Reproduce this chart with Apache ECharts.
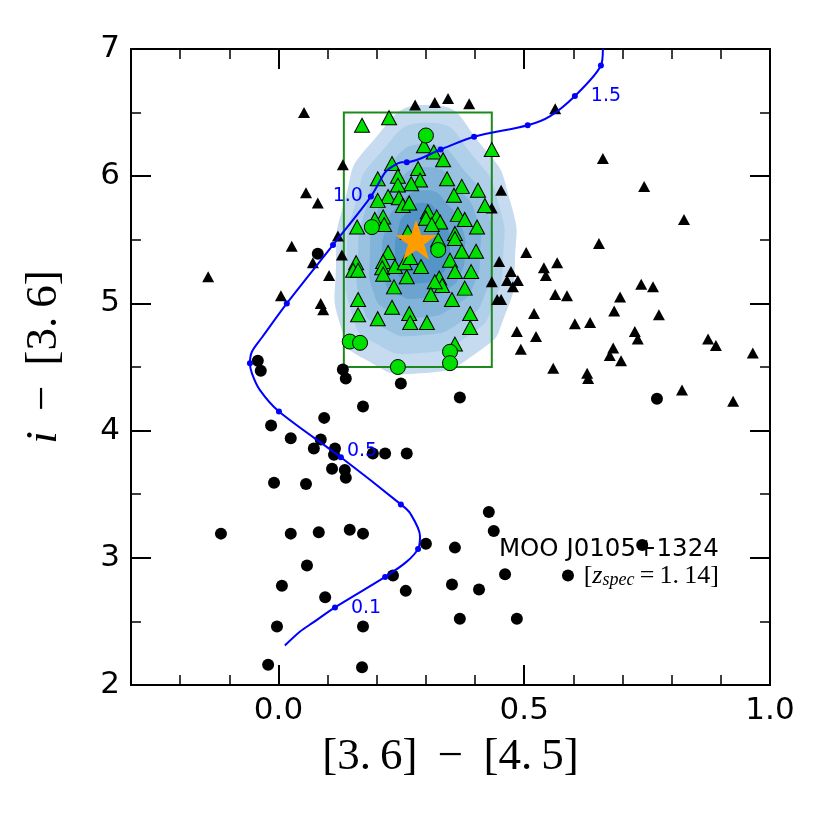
<!DOCTYPE html>
<html><head><meta charset="utf-8">
<script src="https://cdn.jsdelivr.net/npm/echarts@6/dist/echarts.min.js"></script>
<style>html,body{margin:0;padding:0;background:#fff}#c{width:830px;height:830px}</style>
</head><body><div id="c"></div>
<script>
// ---------- data ----------
const xRange = [-0.3, 1.0];
const yRange = [2, 7];
const xMajorTicks = [0.0, 0.5, 1.0];
const xMinorTicks = [-0.2, -0.1, 0.1, 0.2, 0.3, 0.4, 0.6, 0.7, 0.8, 0.9];
const yMajorTicks = [2, 3, 4, 5, 6, 7];
const yMinorTicks = [2.5, 3.5, 4.5, 5.5, 6.5];

const blackTriangles = [
[-0.143,5.21],[0.052,6.50],[0.056,5.87],[0.080,5.79],[0.027,5.45],[0.131,6.09],[0.121,5.53],[0.129,5.38],[0.070,5.32],[0.103,5.22],[0.005,5.06],[0.086,5.00],[0.091,4.95],
[0.278,6.56],[0.318,6.58],[0.345,6.61],[0.388,6.57],
[0.453,5.89],[0.434,5.75],[0.563,6.53],
[0.660,6.14],[0.744,5.92],[0.825,5.66],[0.652,5.47],[0.504,5.40],[0.449,5.33],[0.567,5.32],[0.540,5.28],[0.544,5.22],[0.473,5.25],[0.465,5.18],[0.487,5.18],[0.477,5.13],[0.434,5.17],[0.563,5.07],[0.587,5.06],[0.738,5.15],[0.762,5.13],[0.695,5.05],[0.683,4.94],[0.774,4.91],[0.520,4.92],[0.445,5.03],[0.453,5.03],[0.603,4.84],[0.634,4.85],[0.725,4.78],[0.731,4.72],[0.485,4.78],[0.524,4.74],[0.493,4.64],[0.874,4.72],[0.890,4.67],[0.965,4.61],[0.681,4.65],[0.674,4.59],[0.697,4.55],[0.559,4.49],[0.628,4.45],[0.630,4.41],[0.821,4.32],[0.925,4.23]
];
const blackCircles = [
[0.080,5.39],[-0.042,4.55],[-0.036,4.47],[-0.015,4.04],[0.025,3.94],[0.093,4.10],[0.086,3.93],[0.072,3.86],[0.115,3.86],[0.113,3.81],[0.109,3.70],[0.135,3.69],[0.137,3.63],[-0.009,3.59],[0.056,3.58],[0.131,4.48],[0.137,4.41],[0.249,4.37],[0.369,4.26],[0.172,4.19],[0.192,3.82],[0.217,3.82],[0.261,3.82],[0.145,3.22],[0.172,3.19],[0.300,3.11],[0.359,3.08],[0.428,3.36],[0.438,3.21],[0.461,2.87],[0.589,2.86],[0.233,2.86],[0.259,2.74],[0.353,2.79],[0.408,2.75],[0.369,2.52],[0.485,2.52],[0.172,2.46],[0.170,2.14],[-0.117,3.19],[0.025,3.19],[0.082,3.20],[0.058,2.94],[0.007,2.78],[0.095,2.69],[-0.003,2.46],[-0.021,2.16],[0.740,3.10],[0.770,4.25]
];
const greenTriangles = [
[0.170,6.40],[0.225,6.46],[0.296,6.24],[0.316,6.19],[0.335,6.13],[0.434,6.21],[0.231,6.10],[0.202,5.98],[0.243,6.00],[0.284,6.06],[0.288,5.97],[0.270,5.94],[0.243,5.93],[0.343,5.98],[0.373,5.92],[0.357,5.85],[0.406,5.89],[0.420,5.77],[0.223,5.84],[0.202,5.81],[0.245,5.83],[0.253,5.77],[0.266,5.79],[0.213,5.68],[0.196,5.66],[0.215,5.62],[0.160,5.60],[0.304,5.72],[0.300,5.67],[0.322,5.68],[0.329,5.64],[0.312,5.62],[0.365,5.70],[0.379,5.66],[0.404,5.60],[0.359,5.55],[0.263,5.56],[0.325,5.50],[0.359,5.51],[0.373,5.41],[0.402,5.41],[0.349,5.34],[0.359,5.25],[0.392,5.25],[0.223,5.40],[0.213,5.33],[0.211,5.28],[0.213,5.23],[0.237,5.29],[0.257,5.32],[0.268,5.36],[0.261,5.21],[0.290,5.29],[0.158,5.32],[0.152,5.26],[0.162,5.26],[0.235,5.13],[0.327,5.20],[0.333,5.14],[0.318,5.17],[0.310,5.07],[0.379,5.12],[0.353,5.03],[0.162,5.03],[0.162,4.91],[0.231,4.97],[0.202,4.88],[0.266,4.92],[0.268,4.85],[0.302,4.85],[0.390,4.92],[0.390,4.81],[0.359,4.68]
];
const greenCircles = [[0.300,6.32],[0.190,5.60],[0.325,5.42],[0.145,4.70],[0.166,4.69],[0.243,4.50],[0.349,4.62],[0.349,4.53]];

const selectionBoxX = [0.133, 0.434];
const selectionBoxY = [4.5, 6.5];
const clusterCentre = [0.28, 5.5];

// model colour track (smooth line) and its redshift dots
const trackCurve = [[0.013,2.31],[0.044,2.42],[0.070,2.49],[0.115,2.61],[0.217,2.85],[0.261,2.97],[0.284,3.07],[0.288,3.17],[0.268,3.35],[0.249,3.42],[0.127,3.79],[0.001,4.15],[-0.038,4.32],[-0.054,4.45],[-0.058,4.53],[-0.054,4.62],[-0.034,4.73],[0.017,5.00],[0.111,5.46],[0.188,5.84],[0.217,6.03],[0.233,6.08],[0.251,6.11],[0.261,6.11],[0.330,6.21],[0.398,6.31],[0.507,6.40],[0.552,6.47],[0.603,6.63],[0.656,6.87],[0.660,7.0]];
const trackZ = [0.1,0.2,0.3,0.4,0.5,0.6,0.7,0.8,0.9,1.0,1.1,1.2,1.3,1.4,1.5,1.6];
const trackDotX = [0.115,0.217,0.284,0.249,0.127,0.001,-0.058,0.017,0.111,0.188,0.261,0.330,0.398,0.507,0.603,0.656];
const trackDotY = [2.61,2.85,3.07,3.42,3.79,4.15,4.53,5.00,5.46,5.84,6.11,6.21,6.31,6.40,6.63,6.87];
const trackLabelZ = [0.1, 0.5, 1.0, 1.5];

// density contour levels (outer -> inner), vertices in data units
const densityL1 = [[0.308,6.56],[0.416,6.23],[0.471,5.81],[0.481,5.33],[0.461,4.91],[0.410,4.63],[0.288,4.45],[0.176,4.56],[0.129,4.79],[0.117,5.30],[0.135,5.81],[0.186,6.25]];
const densityL2 = [[0.306,6.42],[0.400,6.14],[0.448,5.78],[0.457,5.36],[0.438,5.01],[0.395,4.77],[0.288,4.61],[0.191,4.70],[0.151,4.90],[0.139,5.35],[0.156,5.78],[0.200,6.15]];
const densityL3 = [[0.304,6.25],[0.386,6.01],[0.426,5.72],[0.434,5.37],[0.420,5.07],[0.381,4.88],[0.290,4.75],[0.207,4.82],[0.170,4.99],[0.162,5.36],[0.176,5.72],[0.213,6.03]];
const densityL4 = [[0.304,6.07],[0.369,5.89],[0.404,5.66],[0.410,5.38],[0.398,5.15],[0.366,5.00],[0.291,4.89],[0.223,4.95],[0.194,5.08],[0.186,5.37],[0.197,5.66],[0.229,5.90]];
const densityL5 = [[0.299,5.89],[0.349,5.76],[0.374,5.59],[0.379,5.39],[0.370,5.23],[0.346,5.12],[0.290,5.04],[0.238,5.08],[0.216,5.18],[0.211,5.38],[0.219,5.59],[0.243,5.77]];
const densityL6 = [[0.296,5.79],[0.329,5.69],[0.346,5.57],[0.349,5.42],[0.343,5.30],[0.327,5.22],[0.290,5.16],[0.255,5.19],[0.241,5.26],[0.237,5.41],[0.243,5.57],[0.258,5.70]];
const densityLevels = [densityL1, densityL2, densityL3, densityL4, densityL5, densityL6];

const annotationAnchor = [0.896, 2.96];

// ---------- styles ----------
const densityColors = ['#c6dbef','#b0cfe8','#99c2e1','#82b3d8','#6aa4cf','#5395c6'];
const labelPlacement = {
  0.1: {position:'right', offset:[8,1]},
  0.5: {position:'right', offset:[-2,-6]},
  1.0: {position:'left', offset:[0,0]},
  1.5: {position:'right', offset:[8,0]}
};
const mathFont = 'Liberation Serif';

const chart = echarts.init(document.getElementById('c'), null, {renderer:'canvas'});
const gridRect = {left:131, right:60, top:49, bottom:145};

function xAx(grid, pos, major) {
  const a = {
    type:'value', gridIndex:grid, position:pos, min:xRange[0], max:xRange[1],
    splitLine:{show:false},
    axisLine:{show:true, onZero:false, lineStyle:{color:'#000', width:2}},
    axisTick:{show:true, inside:true, length: major?20:10, customValues: major?xMajorTicks:xMinorTicks, lineStyle:{color:'#000', width: major?2:1.5}},
    axisLabel:{show:false}
  };
  if (major && pos==='bottom') {
    a.axisLabel = {show:true, customValues:xMajorTicks, formatter:v=>Number(v).toFixed(1), fontSize:31, fontFamily:'DejaVu Sans', color:'#000', margin:10};
    a.name = '[3.\u20096] \u2009\u2212\u2009 [4.\u20095]';
    a.nameLocation = 'middle';
    a.nameGap = 50;
    a.nameTextStyle = {fontSize:45, fontFamily:mathFont, color:'#000'};
  }
  return a;
}
function yAx(grid, pos, major) {
  const a = {
    type:'value', gridIndex:grid, position:pos, min:yRange[0], max:yRange[1],
    splitLine:{show:false},
    axisLine:{show:true, onZero:false, lineStyle:{color:'#000', width:2}},
    axisTick:{show:true, inside:true, length: major?20:10, customValues: major?yMajorTicks:yMinorTicks, lineStyle:{color:'#000', width: major?2:1.5}},
    axisLabel:{show:false}
  };
  if (major && pos==='left') {
    a.axisLabel = {show:true, customValues:yMajorTicks, formatter:v=>String(Math.round(v)), fontSize:31, fontFamily:'DejaVu Sans', color:'#000', margin:11};
    a.name = '{i|i} \u2009\u2212\u2009 [3.\u20096]';
    a.nameLocation = 'middle';
    a.nameGap = 64;
    a.nameRotate = 90;
    a.nameTextStyle = {fontSize:45, fontFamily:mathFont, color:'#000', padding:[0,0,0,20], rich:{i:{fontSize:45, fontFamily:mathFont, fontStyle:'italic', color:'#000'}}};
  }
  return a;
}

const solid = {opacity:1};
const option = {
  backgroundColor:'#fff',
  animation:false,
  grid:[Object.assign({}, gridRect), Object.assign({}, gridRect)],
  xAxis:[xAx(0,'bottom',false), xAx(0,'top',false), xAx(1,'bottom',true), xAx(1,'top',true)],
  yAxis:[yAx(0,'left',false), yAx(0,'right',false), yAx(1,'left',true), yAx(1,'right',true)],
  series:[
    { // density contours
      type:'custom', xAxisIndex:0, yAxisIndex:0, z:1, silent:true,
      data: densityLevels.map((lv,i)=>[clusterCentre[0], clusterCentre[1], i]),
      renderItem:function(params, api){
        const idx = params.dataIndex;
        const pts = densityLevels[idx].map(p=>api.coord(p));
        return {type:'polygon', shape:{points:pts, smooth:0.6}, style:{fill:densityColors[idx], stroke:null}};
      }
    },
    { // selection box
      type:'custom', xAxisIndex:0, yAxisIndex:0, z:2, silent:true,
      data:[[selectionBoxX[0], selectionBoxY[0], selectionBoxX[1], selectionBoxY[1]]],
      renderItem:function(params, api){
        const p0 = api.coord([api.value(0), api.value(3)]);
        const p1 = api.coord([api.value(2), api.value(1)]);
        return {type:'rect', shape:{x:p0[0], y:p0[1], width:p1[0]-p0[0], height:p1[1]-p0[1]}, style:{fill:null, stroke:'#1e8a1e', lineWidth:2}};
      }
    },
    {type:'scatter', xAxisIndex:0, yAxisIndex:0, z:3, data:blackTriangles, symbol:'triangle', symbolSize:[12,11], itemStyle:{color:'#000', opacity:1}},
    {type:'scatter', xAxisIndex:0, yAxisIndex:0, z:3, data:blackCircles, symbol:'circle', symbolSize:12, itemStyle:{color:'#000', opacity:1}},
    {type:'scatter', xAxisIndex:0, yAxisIndex:0, z:4, data:greenTriangles, symbol:'triangle', symbolSize:[15,14], itemStyle:{color:'#00e000', borderColor:'#000', borderWidth:1, opacity:1}},
    {type:'scatter', xAxisIndex:0, yAxisIndex:0, z:4, data:greenCircles, symbol:'circle', symbolSize:15, itemStyle:{color:'#00e000', borderColor:'#000', borderWidth:1, opacity:1}},
    {type:'line', xAxisIndex:0, yAxisIndex:0, z:5, data:trackCurve, smooth:0.3, showSymbol:false, symbol:'none', lineStyle:{color:'#0000ff', width:2, opacity:1}},
    {type:'scatter', xAxisIndex:0, yAxisIndex:0, z:6,
      data: trackZ.map((z,i)=>{
        const item = {value:[trackDotX[i], trackDotY[i], z]};
        if (trackLabelZ.indexOf(z) >= 0) {
          const pl = labelPlacement[z];
          item.label = {show:true, position:pl.position, offset:pl.offset, formatter:z.toFixed(1), color:'#0000ff', fontSize:19, fontFamily:'DejaVu Sans'};
        }
        return item;
      }),
      symbol:'circle', symbolSize:6, itemStyle:{color:'#0000ff', opacity:1}},
    {type:'scatter', xAxisIndex:0, yAxisIndex:0, z:7, data:[clusterCentre],
      symbol:'path://M50,0 L61.8,35.1 L98.9,35.1 L68.9,56.9 L80.3,91.9 L50,70.2 L19.7,91.9 L31.1,56.9 L1.1,35.1 L38.2,35.1 Z',
      symbolSize:[42,40], itemStyle:{color:'#ff9c00', opacity:1}},
    {type:'scatter', xAxisIndex:0, yAxisIndex:0, z:7, data:[annotationAnchor], symbolSize:0, silent:true, itemStyle:{opacity:1},
      label:{show:true, position:'left', distance:0, align:'right',
        formatter:'{a|MOO J0105+1324}\n{b|[}{z|z}{s|spec}{b|\u2009=\u20091.\u200914]}',
        rich:{
          a:{fontFamily:'DejaVu Sans', fontSize:24.5, color:'#000', lineHeight:26, align:'right'},
          b:{fontFamily:mathFont, fontSize:26, color:'#000', lineHeight:26, verticalAlign:'middle'},
          z:{fontFamily:mathFont, fontSize:26, fontStyle:'italic', color:'#000', lineHeight:26, verticalAlign:'middle'},
          s:{fontFamily:mathFont, fontSize:18, fontStyle:'italic', color:'#000', lineHeight:14, verticalAlign:'bottom'}
        }}}
  ]
};
chart.setOption(option);
</script></body></html>
